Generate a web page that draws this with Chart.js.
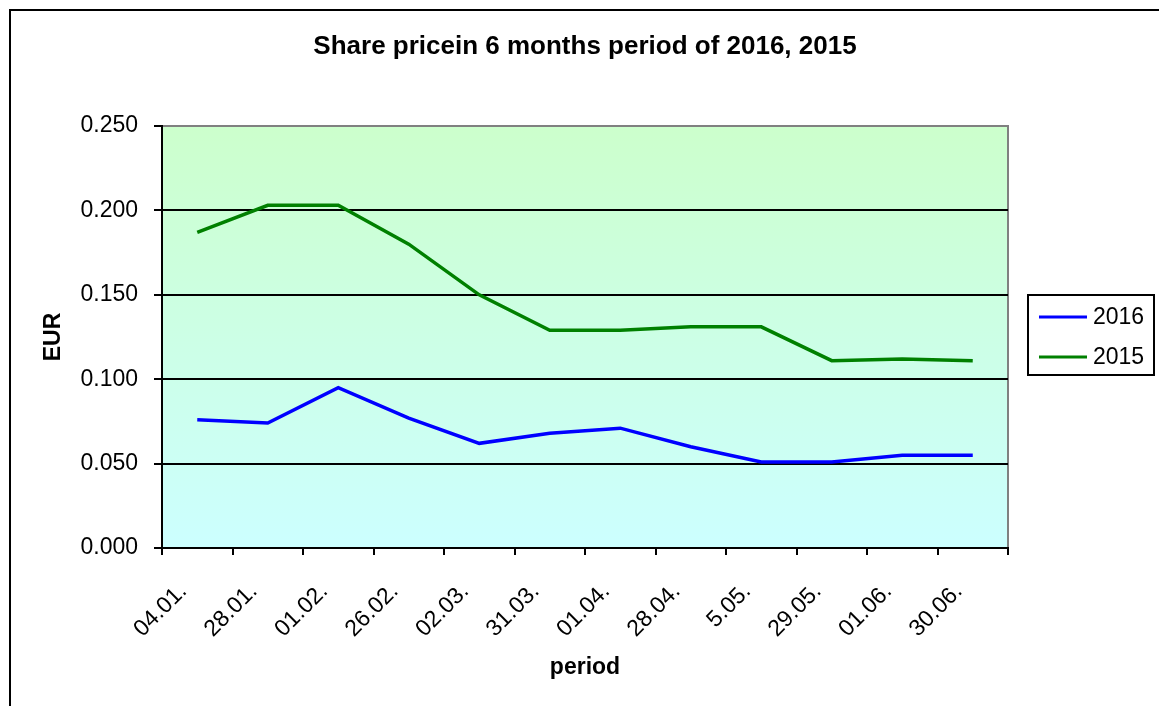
<!DOCTYPE html>
<html>
<head>
<meta charset="utf-8">
<script src="https://cdn.jsdelivr.net/npm/chart.js@4"></script>
<style>
	body { margin: 0; background: #fff; }
	canvas { display: block; }
</style>
</head>
<body>
<canvas id="shareChart" width="1159" height="706"></canvas>
<script>
// data
const periods = ["04.01.", "28.01.", "01.02.", "26.02.", "02.03.", "31.03.", "01.04.", "28.04.", "5.05.", "29.05.", "01.06.", "30.06."];
const price2016 = [0.076, 0.074, 0.095, 0.077, 0.062, 0.068, 0.071, 0.060, 0.051, 0.051, 0.055, 0.055];
const price2015 = [0.187, 0.203, 0.203, 0.180, 0.150, 0.129, 0.129, 0.131, 0.131, 0.111, 0.112, 0.111];
const yTicks = [0, 0.05, 0.1, 0.15, 0.2, 0.25];

const FONT = "Arial, 'Liberation Sans', sans-serif";

// background gradient, plot frame, outer frame and title
const frame = {
	id: "frame",
	beforeDraw(chart) {
		const { ctx, chartArea: a } = chart;
		ctx.save();
		ctx.fillStyle = "#fff";
		ctx.fillRect(0, 0, chart.width, chart.height);
		const g = ctx.createLinearGradient(0, a.top, 0, a.bottom);
		g.addColorStop(0, "#ccffcc");
		g.addColorStop(1, "#ccffff");
		ctx.fillStyle = g;
		ctx.fillRect(a.left, a.top, a.right - a.left, a.bottom - a.top);
		ctx.strokeStyle = "#808080";
		ctx.lineWidth = 2;
		ctx.strokeRect(a.left, a.top, a.right - a.left, a.bottom - a.top);

		ctx.strokeStyle = "#000";
		ctx.lineWidth = 2;
		ctx.strokeRect(10, 10, chart.width + 20, chart.height + 20);

		ctx.fillStyle = "#000";
		ctx.font = "bold 26px " + FONT;
		ctx.textAlign = "center";
		ctx.textBaseline = "middle";
		ctx.fillText("Share pricein 6 months period of 2016, 2015", 585, 47);
		ctx.restore();
	},
	afterDraw(chart) {
		// boxed legend on the right
		const { ctx } = chart;
		ctx.save();
		ctx.fillStyle = "#fff";
		ctx.fillRect(1028, 295, 126, 80);
		ctx.strokeStyle = "#000";
		ctx.lineWidth = 2;
		ctx.strokeRect(1028, 295, 126, 80);
		ctx.font = "23px " + FONT;
		ctx.textBaseline = "middle";
		ctx.textAlign = "left";
		chart.data.datasets.forEach((ds, i) => {
			const y = 317 + i * 40;
			ctx.strokeStyle = ds.borderColor;
			ctx.lineWidth = 3;
			ctx.beginPath();
			ctx.moveTo(1039, y);
			ctx.lineTo(1087, y);
			ctx.stroke();
			ctx.fillStyle = "#000";
			ctx.fillText(ds.label, 1093, y + 1);
		});
		ctx.restore();
	},
};

const ctx = document.getElementById("shareChart").getContext("2d");
new Chart(ctx, {
	type: "line",
	data: {
		labels: periods,
		datasets: [
			{
				label: "2016",
				data: price2016,
				borderColor: "#0000ff",
				borderWidth: 3.5,
				pointRadius: 0,
				tension: 0,
			},
			{
				label: "2015",
				data: price2015,
				borderColor: "#008000",
				borderWidth: 3.5,
				pointRadius: 0,
				tension: 0,
			},
		],
	},
	options: {
		responsive: false,
		animation: false,
		layout: { padding: { top: 126, right: 151, left: 0, bottom: 0 } },
		plugins: {
			legend: { display: false },
			title: { display: false },
			tooltip: { enabled: false },
		},
		scales: {
			x: {
				offset: true,
				grid: {
					offset: true,
					drawOnChartArea: false,
					drawTicks: true,
					tickLength: 7,
					color: "#000",
					lineWidth: 2,
				},
				border: { color: "#000", width: 2 },
				ticks: {
					color: "#000",
					font: { family: FONT, size: 23 },
					minRotation: 45,
					maxRotation: 45,
					padding: 23,
					labelOffset: -14,
					autoSkip: false,
				},
				title: {
					display: true,
					text: "period",
					color: "#000",
					font: { family: FONT, size: 23, weight: "bold" },
					padding: { top: 0, bottom: 25 },
				},
				afterFit(scale) {
					scale.height = 158;
				},
			},
			y: {
				min: 0,
				max: 0.25,
				afterBuildTicks(scale) {
					scale.ticks = yTicks.map((v) => ({ value: v }));
				},
				grid: {
					color: (c) => (c.tick && c.tick.value === 0.25 ? "#808080" : "#000"),
					tickColor: "#000",
					lineWidth: 2,
					tickLength: 8,
				},
				border: { color: "#000", width: 2 },
				ticks: {
					color: "#000",
					font: { family: FONT, size: 23 },
					padding: 16,
					callback: (v) => Number(v).toFixed(3),
				},
				title: {
					display: true,
					text: "EUR",
					color: "#000",
					font: { family: FONT, size: 23, weight: "bold" },
					padding: { top: 40, bottom: 0 },
				},
				afterFit(scale) {
					scale.width = 162;
				},
			},
		},
	},
	plugins: [frame],
});
</script>
</body>
</html>
